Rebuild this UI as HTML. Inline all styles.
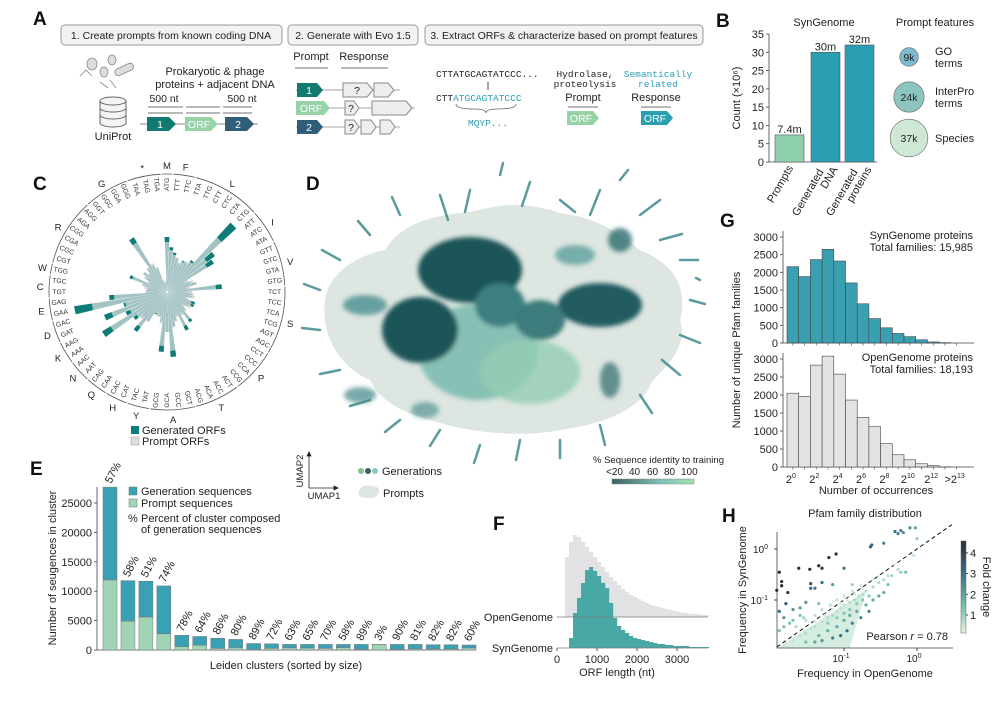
<!DOCTYPE html>
<html><head><meta charset="utf-8">
<style>
html,body{margin:0;padding:0;background:#fff;}
svg{display:block;font-family:"Liberation Sans",Arial,sans-serif;}
.mono{font-family:"Liberation Mono",monospace;}
</style></head>
<body>
<svg id="fig" width="1000" height="704" viewBox="0 0 1000 704" xmlns="http://www.w3.org/2000/svg">
<defs>
<linearGradient id="idgrad" x1="0" x2="1" y1="0" y2="0"><stop offset="0" stop-color="#3b5f63"/><stop offset="0.6" stop-color="#7fc2b8"/><stop offset="1" stop-color="#a3e0a6"/></linearGradient>
<linearGradient id="fcgrad" x1="0" x2="0" y1="1" y2="0"><stop offset="0" stop-color="#e3f4de"/><stop offset="0.3" stop-color="#6fbfa6"/><stop offset="0.65" stop-color="#3c6f8a"/><stop offset="1" stop-color="#2a2a36"/></linearGradient>
<filter id="blur2"><feGaussianBlur stdDeviation="2.5"/></filter>
</defs>

<g font-weight="bold" font-size="19" fill="#111">
<text x="33" y="25">A</text><text x="716" y="27">B</text><text x="33" y="190">C</text>
<text x="306" y="190">D</text><text x="30" y="475">E</text><text x="493" y="530">F</text>
<text x="720" y="227">G</text><text x="722" y="522">H</text>
</g>

<g font-size="10.5" fill="#222">
<rect x="61" y="25" width="221" height="20" rx="4" fill="#f2f2f2" stroke="#999"/>
<text x="171" y="39" text-anchor="middle">1. Create prompts from known coding DNA</text>
<rect x="288" y="25" width="130" height="20" rx="4" fill="#f2f2f2" stroke="#999"/>
<text x="353" y="39" text-anchor="middle">2. Generate with Evo 1.5</text>
<rect x="425" y="25" width="278" height="20" rx="4" fill="#f2f2f2" stroke="#999"/>
<text x="564" y="39" text-anchor="middle">3. Extract ORFs &amp; characterize based on prompt features</text>
<g fill="#ddd" stroke="#888" stroke-width="0.8">
<ellipse cx="92" cy="64" rx="5" ry="6"/><ellipse cx="104" cy="72" rx="4" ry="5"/><ellipse cx="112" cy="60" rx="4" ry="5"/>
<rect x="114" y="66" width="20" height="7" rx="3.5" transform="rotate(-25 124 69)"/>
<path d="M80 76 l6 -6 l6 6 M100 82 l8 6 M110 80 l6 8" fill="none"/>
</g>
<g fill="#f4f4f4" stroke="#666" stroke-width="1">
<path d="M100 101 v22 a13 4 0 0 0 26 0 v-22"/>
<ellipse cx="113" cy="101" rx="13" ry="4"/>
<path d="M100 108 a13 4 0 0 0 26 0 M100 115 a13 4 0 0 0 26 0" fill="none"/>
</g>
<text x="113" y="140" text-anchor="middle" font-size="11">UniProt</text>
<text x="215" y="75" text-anchor="middle" font-size="11">Prokaryotic &amp; phage</text>
<text x="215" y="88" text-anchor="middle" font-size="11">proteins + adjacent DNA</text>
<text x="164" y="102" text-anchor="middle" font-size="10.5">500 nt</text>
<text x="242" y="102" text-anchor="middle" font-size="10.5">500 nt</text>
<g stroke="#444" stroke-width="0.8" fill="#444">
<path d="M148 107 H183 M186 107 H220 M223 107 H252"/>
<path d="M148 113 H183 M186 113 H220 M223 113 H252"/>
</g>
<line x1="140" y1="124" x2="258" y2="124" stroke="#888"/>
<path d="M147 117 h22 l7 7 l-7 7 h-22 z" fill="#127a70"/>
<text x="160" y="128" fill="#fff" text-anchor="middle">1</text>
<path d="M185 117 h26 l7 7 l-7 7 h-26 z" fill="#97d2a8"/>
<text x="199" y="128" fill="#fff" text-anchor="middle">ORF</text>
<path d="M225 117 h22 l7 7 l-7 7 h-22 z" fill="#2f5d7a"/>
<text x="238" y="128" fill="#fff" text-anchor="middle">2</text>
<text x="311" y="60" text-anchor="middle" font-size="11">Prompt</text>
<text x="364" y="60" text-anchor="middle" font-size="11">Response</text>
<path d="M295 68 H328 M341 68 H388" stroke="#444" stroke-width="0.8"/>
<g stroke="#888" stroke-width="0.8">
<line x1="296" y1="90" x2="400" y2="90"/><line x1="296" y1="108" x2="415" y2="108"/><line x1="296" y1="127" x2="400" y2="127"/>
</g>
<path d="M297 83 h20 l6 7 l-6 7 h-20 z" fill="#127a70"/><text x="309" y="94" fill="#fff" text-anchor="middle">1</text>
<path d="M343 83 h24 l6 7 l-6 7 h-24 z M374 83 h14 l6 7 l-6 7 h-14 z" fill="#eee" stroke="#888"/><text x="357" y="94" text-anchor="middle">?</text>
<path d="M296 101 h28 l6 7 l-6 7 h-28 z" fill="#97d2a8"/><text x="311" y="112" fill="#fff" text-anchor="middle">ORF</text>
<path d="M345 101 h9 l5 7 l-5 7 h-9 z M372 101 h34 l6 7 l-6 7 h-34 z" fill="#eee" stroke="#888"/><text x="351" y="112" text-anchor="middle">?</text>
<path d="M297 120 h20 l6 7 l-6 7 h-20 z" fill="#2f5d7a"/><text x="309" y="131" fill="#fff" text-anchor="middle">2</text>
<path d="M345 120 h9 l5 7 l-5 7 h-9 z M361 120 h10 l5 7 l-5 7 h-10 z M380 120 h10 l5 7 l-5 7 h-10 z" fill="#eee" stroke="#888"/><text x="351" y="131" text-anchor="middle">?</text>
<text x="436" y="77" class="mono" font-size="9.5">CTTATGCAGTATCCC...</text>
<path d="M488 82 v8" stroke="#444"/>
<text x="436" y="101" class="mono" font-size="9.5">CTT<tspan fill="#2a9fb0">ATGCAGTATCCC</tspan></text>
<path d="M456 104 q0 5 18 5 q12 0 12 4 q0 -4 12 -4 q18 0 18 -5" fill="none" stroke="#666" stroke-width="0.8"/>
<text x="488" y="126" class="mono" font-size="9.5" fill="#2a9fb0" text-anchor="middle">MQYP...</text>
<text x="585" y="77" class="mono" font-size="9.5" text-anchor="middle">Hydrolase,</text>
<text x="585" y="87" class="mono" font-size="9.5" text-anchor="middle">proteolysis</text>
<text x="583" y="101" text-anchor="middle" font-size="11">Prompt</text>
<path d="M568 107 H598" stroke="#444" stroke-width="0.8"/>
<path d="M567 111 h26 l6 7 l-6 7 h-26 z" fill="#97d2a8"/><text x="581" y="122" fill="#fff" text-anchor="middle">ORF</text>
<text x="658" y="77" class="mono" font-size="9.5" fill="#2a9fb0" text-anchor="middle">Semantically</text>
<text x="658" y="87" class="mono" font-size="9.5" fill="#2a9fb0" text-anchor="middle">related</text>
<text x="656" y="101" text-anchor="middle" font-size="11">Response</text>
<path d="M641 107 H671" stroke="#444" stroke-width="0.8"/>
<path d="M641 111 h26 l6 7 l-6 7 h-26 z" fill="#2a9fb0"/><text x="655" y="122" fill="#fff" text-anchor="middle">ORF</text>
</g>

<g>
<path d="M325 300 C330 270 360 255 385 250 C400 225 430 215 470 212 C500 205 520 200 560 213 C600 218 620 235 640 250 C665 260 690 280 680 320 C690 350 660 370 650 385 C640 410 600 425 560 430 C520 438 470 433 430 420 C400 412 380 400 370 380 C345 370 320 340 325 300 Z" fill="#dde6e0"/>
<g filter="url(#blur2)">
<ellipse cx="478" cy="352" rx="60" ry="48" fill="#7ebdb0" opacity="0.9"/>
<ellipse cx="530" cy="372" rx="50" ry="32" fill="#93cdb4" opacity="0.8"/>
<ellipse cx="470" cy="270" rx="52" ry="33" fill="#1f5458"/>
<ellipse cx="420" cy="330" rx="38" ry="33" fill="#1f5458"/>
<ellipse cx="600" cy="305" rx="42" ry="22" fill="#235b60"/>
<ellipse cx="500" cy="305" rx="25" ry="22" fill="#3e7f80"/>
<ellipse cx="540" cy="320" rx="25" ry="20" fill="#3c7b7c"/>
<ellipse cx="365" cy="305" rx="22" ry="10" fill="#4b8f90" opacity="0.8"/>
<ellipse cx="575" cy="255" rx="20" ry="10" fill="#4b9595" opacity="0.7"/>
<ellipse cx="620" cy="240" rx="12" ry="12" fill="#2d6b6e" opacity="0.8"/>
<ellipse cx="360" cy="395" rx="16" ry="8" fill="#3e8586" opacity="0.7"/>
<ellipse cx="425" cy="410" rx="14" ry="8" fill="#3e8586" opacity="0.6"/>
<ellipse cx="610" cy="380" rx="10" ry="18" fill="#2d6b6e" opacity="0.7"/>
</g>
<g stroke="#3f8a8c" stroke-width="2.5" stroke-linecap="round" opacity="0.85">
<path d="M440 195 l8 25 M470 190 l-5 22 M530 182 l-8 24 M560 200 l15 12 M600 190 l-10 25 M640 215 l20 -15 M660 240 l22 -6 M680 260 l18 0 M690 300 l15 4 M680 335 l20 8 M662 360 l18 15 M640 395 l12 18 M600 425 l5 20 M560 440 l0 18 M520 440 l-4 20 M480 445 l-6 18 M440 430 l-10 16 M400 420 l-15 12 M370 400 l-20 6 M340 370 l-20 4 M320 330 l-18 -2 M320 290 l-16 -6 M340 260 l-18 -10 M370 235 l-12 -14 M400 215 l-8 -18 M500 175 l3 -12 M620 180 l8 -10 M700 280 l-4 -2"/>
</g>
<g stroke="#222" stroke-width="0.8" fill="#222">
<path d="M309 488 V454 M309 488 H336" fill="none"/>
<path d="M307 456 l2 -4 l2 4 z M334 486 l4 2 l-4 2 z"/>
</g>
<text x="303" y="471" font-size="9.5" transform="rotate(-90 303 471)" text-anchor="middle" fill="#222">UMAP2</text>
<text x="324" y="499" font-size="9.5" text-anchor="middle" fill="#222">UMAP1</text>
<g>
<circle cx="361" cy="471" r="3" fill="#7cc48f"/><circle cx="368" cy="471" r="3" fill="#3b5f63"/><circle cx="375" cy="471" r="3" fill="#8ec9c0"/>
<text x="382" y="475" font-size="11" fill="#222">Generations</text>
<path d="M359 491 q4 -8 12 -5 q9 0 8 6 q-3 8 -12 6 q-10 0 -8 -7z" fill="#dde6e0"/>
<text x="383" y="497" font-size="11" fill="#222">Prompts</text>
</g>
<g>
<text x="593" y="463" font-size="9.5" fill="#222">% Sequence identity to training</text>
<text x="606" y="475" font-size="10" fill="#222">&lt;20</text><text x="629" y="475" font-size="10" fill="#222">40</text><text x="647" y="475" font-size="10" fill="#222">60</text><text x="664" y="475" font-size="10" fill="#222">80</text><text x="681" y="475" font-size="10" fill="#222">100</text>
<rect x="612" y="479" width="82" height="5" fill="url(#idgrad)" stroke="#888" stroke-width="0.5"/>
</g>
</g>

<g id="chartC"></g>
<g id="chartB"></g>
<g id="chartE"></g>
<g id="chartF"></g>
<g id="chartG"></g>
<g id="chartH"></g>
</svg>

<script>
const bCategories = ["Prompts", "Generated DNA", "Generated proteins"];
const bValues = [7.4, 30, 32];
const bLabels = ["7.4m", "30m", "32m"];
const bTicks = [0, 5, 10, 15, 20, 25, 30, 35];
const featNames = ["GO terms", "InterPro terms", "Species"];
const featValues = [9, 24, 37];
const featLabels = ["9k", "24k", "37k"];

const codons = ["TAA","TAG","TGA","ATG","TTT","TTC","TTA","TTG","CTT","CTC","CTA","CTG","ATT","ATC","ATA","GTT","GTC","GTA","GTG","TCT","TCC","TCA","TCG","AGT","AGC","CCT","CCC","CCA","CCG","ACT","ACC","ACA","ACG","GCT","GCC","GCA","GCG","TAT","TAC","CAT","CAC","CAA","CAG","AAT","AAC","AAA","AAG","GAT","GAC","GAA","GAG","TGT","TGC","TGG","CGT","CGC","CGA","CGG","AGA","AGG","GGT","GGC","GGA","GGG"];
const aminoAcids = ["*","*","*","M","F","F","L","L","L","L","L","L","I","I","I","V","V","V","V","S","S","S","S","S","S","P","P","P","P","T","T","T","T","A","A","A","A","Y","Y","H","H","Q","Q","N","N","K","K","D","D","E","E","C","C","W","R","R","R","R","R","R","G","G","G","G"];
const genUsage = [1.0,0.8,1.0,5.5,4.5,4.0,3.5,3.0,3.5,3.5,4.0,9.4,6.0,5.5,2.0,2.5,3.0,2.0,5.5,2.0,2.5,2.5,2.0,3.0,3.0,2.5,2.0,2.5,3.8,2.5,4.3,2.5,3.0,3.5,6.5,4.0,6.0,3.0,2.5,2.5,2.5,3.5,5.0,3.5,4.2,7.6,4.6,6.7,4.5,9.4,5.8,2.0,2.0,2.0,2.5,4.0,2.0,2.5,3.0,2.5,3.0,6.4,3.0,2.5];
const promptUsage = [1.2,1.0,1.2,5.0,4.2,3.8,3.6,3.2,3.4,3.6,3.8,7.4,5.0,4.7,2.4,2.8,3.1,2.3,4.9,2.5,2.7,2.8,2.2,2.6,2.7,2.8,2.3,2.7,3.5,2.8,3.8,2.7,3.1,3.6,5.9,4.0,5.4,3.2,2.6,2.6,2.4,3.5,4.4,3.7,3.8,6.6,4.1,5.9,4.3,7.6,5.3,2.2,2.1,2.3,2.6,3.7,2.2,2.7,3.0,2.6,3.1,5.8,3.2,2.7];

const eTotals = [27700,11800,11700,10900,2500,2300,2000,1800,1100,1050,950,950,950,950,950,950,950,950,900,900,850];
const ePrompts = [11900,4900,5600,2750,550,800,280,360,120,290,350,330,290,400,105,920,95,180,160,160,340];
const ePercents = ["57%","58%","51%","74%","78%","64%","86%","80%","89%","72%","63%","65%","70%","58%","89%","3%","90%","81%","82%","82%","60%"];
const eTicks = [0,5000,10000,15000,20000,25000];

const fOpen = [0,0,60,75,82,80,75,70,65,60,55,50,45,40,36,32,28,25,22,20,18,16,14,12,11,10,9,8,7,6,5,4,4,3,3,3,2,2];
const fSyn = [0,0,0,10,35,50,65,78,81,77,72,65,60,45,30,22,18,15,12,10,9,8,7,6,5,4,4,3,3,2,2,2,2,1,1,1,1,1];
const fTicks = [0,1000,2000,3000];

const gBins = ["2^0","2^1","2^2","2^3","2^4","2^5","2^6","2^7","2^8","2^9","2^10","2^11","2^12","2^13",">2^13"];
const gSyn = [2160,1880,2360,2650,2320,1700,1110,690,430,270,180,90,30,10,0];
const gOpen = [2050,1960,2830,3080,2580,1860,1380,1120,650,340,200,90,40,5,0];
const gTicks = [0,500,1000,1500,2000,2500,3000];
const gTickBins = [0,2,4,6,8,10,12];
const gTickLabels = ["0","2","4","6","8","10","12"];

const hOpenFreq = [0.013,0.014,0.014,0.012,0.017,0.024,0.034,0.045,0.05,0.062,0.078,0.035,0.04,0.035,0.05,0.07,0.1,0.13,0.12,0.016,0.02,0.028,0.013,0.013,0.015,0.03,0.045,0.025,0.23,0.24,0.35,0.5,0.55,0.6,0.65,0.8,0.95,0.9,1.0,0.7,0.55,0.6,0.015,0.02,0.025,0.03,0.035,0.04,0.05,0.06,0.07,0.08,0.09,0.1,0.12,0.14,0.16,0.18,0.2,0.25,0.3,0.35,0.4,0.045,0.06,0.08,0.1,0.12,0.15,0.2,0.25,0.3,0.35,0.07,0.09,0.11,0.05,0.04,0.13,0.17,0.22,0.03,0.06,0.08,0.1,0.12,0.15,0.18,0.22,0.028,0.04,0.055,0.07,0.09,0.11,0.14,0.18,0.022,0.03,0.04,0.05,0.065,0.08,0.1,0.13,0.17,0.018,0.025,0.015,0.02,0.5,0.45,0.3,0.4,0.25];
const hSynFreq = [0.35,0.23,0.19,0.155,0.14,0.42,0.4,0.47,0.42,0.68,0.8,0.21,0.17,0.17,0.22,0.2,0.42,0.2,0.12,0.085,0.065,0.045,0.06,0.025,0.03,0.09,0.085,0.07,1.1,1.2,1.3,2.2,2.0,2.3,2.1,2.6,2.6,0.75,1.6,0.35,0.4,0.35,0.013,0.016,0.02,0.022,0.028,0.03,0.038,0.045,0.05,0.06,0.07,0.08,0.09,0.1,0.12,0.13,0.15,0.18,0.22,0.25,0.3,0.02,0.025,0.03,0.04,0.05,0.06,0.08,0.1,0.12,0.14,0.018,0.02,0.025,0.016,0.015,0.035,0.045,0.06,0.015,0.035,0.045,0.055,0.065,0.085,0.1,0.12,0.025,0.038,0.05,0.065,0.085,0.1,0.13,0.17,0.03,0.04,0.05,0.065,0.08,0.1,0.12,0.15,0.19,0.035,0.05,0.045,0.04,0.5,0.3,0.3,0.2,0.25];
const hFoldTicks = [1,2,3,4];

const NS = "http://www.w3.org/2000/svg";
function mk(tag, parent, attrs) {
  const e = document.createElementNS(NS, tag);
  for (const k in attrs) e.setAttribute(k, attrs[k]);
  parent.appendChild(e);
  return e;
}
function txt(parent, x, y, s, size, anchor, extra) {
  const t = mk("text", parent, Object.assign({x: x, y: y, "font-size": size, "text-anchor": anchor || "start", fill: "#222"}, extra || {}));
  t.textContent = s;
  return t;
}

(function(){
  const g = document.getElementById("chartB");
  const y0 = 162, y1 = 34, vmax = 35, axX = 769;
  const yS = v => y0 - (v / vmax) * (y0 - y1);
  const bx = [775, 811, 845], bw = 29;
  const colors = ["#8fd1ac", "#2a9fb1", "#2a9fb1"];
  const ax = mk("path", g, {d: `M${axX} ${y1} V${y0} H${axX+108}`, stroke: "#444", fill: "none", "stroke-width": 0.8});
  
  
  bTicks.forEach(t => {
    mk("line", g, {x1: axX-3, x2: axX, y1: yS(t), y2: yS(t), stroke: "#444", "stroke-width": 0.8});
    const l = txt(g, axX-5, yS(t)+4, String(t), 11, "end");
    
    
  });
  const yt = txt(g, 740, 98, "Count (×10⁶)", 11, "middle", {transform: "rotate(-90 740 98)"});
  
  
  const st = txt(g, 824, 26, "SynGenome", 11, "middle");
  
  
  bValues.forEach((v, i) => {
    const r = mk("rect", g, {x: bx[i], y: yS(v), width: bw, height: y0 - yS(v), fill: colors[i], stroke: "#555", "stroke-width": 0.6});
    
    
    const l = txt(g, bx[i] + bw/2, yS(v) - 2, bLabels[i], 11, "middle");
    
    
    const words = bCategories[i].split(" ");
    const cx = bx[i] + bw/2 + 4, cy = y0 + 6;
    const tl = mk("text", g, {x: cx, y: cy, "font-size": 11, "text-anchor": "end", fill: "#222", transform: `rotate(-60 ${cx} ${cy})`});
    
    
    if (words.length === 1) { tl.textContent = words[0]; }
    else {
      const a = mk("tspan", tl, {x: cx - 6, dy: -3}); a.textContent = words[0];
      const b = mk("tspan", tl, {x: cx + 3, dy: 11}); b.textContent = words[1];
    }
  });
  const ft = txt(g, 935, 26, "Prompt features", 11, "middle");
  
  
  const fy = [57, 97, 138], fcol = ["#7dbcd0", "#8ec4c0", "#cfe8d6"];
  featValues.forEach((v, i) => {
    const r = 6.2 * Math.sqrt(v / 4);
    const c = mk("circle", g, {cx: 909, cy: fy[i], r: r, fill: fcol[i], stroke: "#666", "stroke-width": 0.6});
    
    
    txt(g, 909, fy[i] + 4, featLabels[i], 10.5, "middle");
    const parts = featNames[i].split(" ");
    if (parts.length > 1) { txt(g, 935, fy[i] - 2, parts[0], 11); txt(g, 935, fy[i] + 10, parts[1], 11); }
    else txt(g, 935, fy[i] + 4, parts[0], 11);
  });
})();

(function(){
  const g = document.getElementById("chartC");
  const cx = 167, cy = 292, step = 360 / codons.length, k = 10;
  const rad = a => (a - 90) * Math.PI / 180;
  function wedge(a, r1, r2, col, name) {
    const w = step * 0.45;
    const p = (ang, r) => [cx + r * Math.cos(rad(ang)), cy + r * Math.sin(rad(ang))];
    const A = p(a - w, r1), B = p(a - w, r2), C = p(a + w, r2), D = p(a + w, r1);
    const e = mk("path", g, {d: `M${A} L${B} A${r2} ${r2} 0 0 1 ${C} L${D} A${r1} ${r1} 0 0 0 ${A}Z`, fill: col});
    
    
  }
  codons.forEach((c, i) => {
    let a = (i - 3) * step;
    const gv = genUsage[i] * k, pv = promptUsage[i] * k;
    const lo = Math.min(gv, pv);
    wedge(a, 1, lo, "#a3c2c3", "codon-bar-overlap");
    if (gv > pv) wedge(a, lo, gv, "#0f7d77", "codon-bar-generated");
    else wedge(a, lo, pv, "#d3d3d3", "codon-bar-prompt");
    const an = (a + 360) % 360;
    const lr = 101, x = cx + lr * Math.cos(rad(an)), y = cy + lr * Math.sin(rad(an));
    const right = an < 180;
    const rr = right ? an - 90 : an + 90;
    const t = txt(g, x, y, c, 6.8, right ? "start" : "end", {transform: `rotate(${rr} ${x} ${y})`, "dominant-baseline": "middle", fill: "#333"});
    
    
  });
  let s = 0;
  for (let i = 1; i <= codons.length; i++) {
    if (i === codons.length || aminoAcids[i] !== aminoAcids[s]) {
      const a0 = (s - 3) * step - step * 0.45, a1 = (i - 1 - 3) * step + step * 0.45;
      const R = 118;
      const P = ang => [cx + R * Math.cos(rad(ang)), cy + R * Math.sin(rad(ang))];
      const arc = mk("path", g, {d: `M${P(a0)} A${R} ${R} 0 0 1 ${P(a1)}`, fill: "none", stroke: "#555", "stroke-width": 0.8});
      
      
      const am = (a0 + a1) / 2, R2 = 127;
      const l = txt(g, cx + R2 * Math.cos(rad(am)), cy + R2 * Math.sin(rad(am)) + 4, aminoAcids[s], 9.5, "middle");
      
      
      s = i;
    }
  }
  const lg1 = mk("rect", g, {x: 131, y: 426, width: 8, height: 8, fill: "#0f7d77"});
  
  
  txt(g, 142, 434, "Generated ORFs", 11);
  const lg2 = mk("rect", g, {x: 131, y: 437, width: 8, height: 8, fill: "#ddd", stroke: "#999", "stroke-width": 0.5});
  
  
  txt(g, 142, 445, "Prompt ORFs", 11);
})();

(function(){
  const g = document.getElementById("chartE");
  const y0 = 650, y25 = 503, x0 = 97, x1 = 476, bw = 14, step = 17.95, bs = 103;
  const yS = v => y0 - v / 25000 * (y0 - y25);
  mk("path", g, {d: `M${x0} 487 V${y0} H${x1}`, stroke: "#444", fill: "none", "stroke-width": 0.8});
  eTicks.forEach(t => {
    mk("line", g, {x1: x0-3, x2: x0, y1: yS(t), y2: yS(t), stroke: "#444", "stroke-width": 0.8});
    const l = txt(g, x0-5, yS(t)+4, String(t), 11, "end");
    
    
  });
  eTotals.forEach((tot, i) => {
    const x = bs + i * step;
    const r1 = mk("rect", g, {x: x, y: yS(tot), width: bw, height: yS(ePrompts[i]) - yS(tot), fill: "#3aa0b4", stroke: "#777", "stroke-width": 0.5});
    
    
    const r2 = mk("rect", g, {x: x, y: yS(ePrompts[i]), width: bw, height: y0 - yS(ePrompts[i]), fill: "#9fd4b4", stroke: "#777", "stroke-width": 0.5});
    
    
    const lx = x + bw/2 + 1, ly = yS(tot) - 3;
    const l = txt(g, lx, ly, ePercents[i], 11, "start", {transform: `rotate(-62 ${lx} ${ly})`});
    
    
  });
  const yt = txt(g, 56, 568, "Number of seugences in cluster", 11, "middle", {transform: "rotate(-90 56 568)"});
  
  
  const xt = txt(g, 286, 669, "Leiden clusters (sorted by size)", 11, "middle");
  
  
  const l1 = mk("rect", g, {x: 129, y: 487, width: 8, height: 8, fill: "#3aa0b4", stroke: "#777", "stroke-width": 0.5});
  
  
  txt(g, 141, 495, "Generation sequences", 11);
  const l2 = mk("rect", g, {x: 129, y: 499, width: 8, height: 8, fill: "#9fd4b4", stroke: "#777", "stroke-width": 0.5});
  
  
  txt(g, 141, 507, "Prompt sequences", 11);
  txt(g, 128, 522, "%", 11);
  txt(g, 141, 522, "Percent of cluster composed", 11);
  txt(g, 141, 533, "of generation sequences", 11);
})();

(function(){
  const g = document.getElementById("chartF");
  const x0 = 557, pxPerNt = 0.04, binNt = 100, openBase = 617, synBase = 648;
  const xS = v => x0 + v * pxPerNt;
  fOpen.forEach((h, i) => {
    if (!h) return;
    const r = mk("rect", g, {x: xS(i*binNt), y: openBase - h, width: binNt*pxPerNt + 0.2, height: h, fill: "#e2e2e4"});
    
    
  });
  fSyn.forEach((h, i) => {
    if (!h) return;
    const r = mk("rect", g, {x: xS(i*binNt), y: synBase - h, width: binNt*pxPerNt + 0.2, height: h, fill: "#48a8a6"});
    
    
  });
  mk("line", g, {x1: x0, x2: 708, y1: openBase, y2: openBase, stroke: "#777", "stroke-width": 0.8});
  mk("line", g, {x1: x0, x2: 708, y1: synBase, y2: synBase, stroke: "#777", "stroke-width": 0.8});
  txt(g, 553, 621, "OpenGenome", 11, "end");
  txt(g, 553, 652, "SynGenome", 11, "end");
  fTicks.forEach(t => {
    mk("line", g, {x1: xS(t), x2: xS(t), y1: synBase, y2: synBase + 3, stroke: "#555"});
    const l = txt(g, xS(t), 663, String(t), 11, "middle");
    
    
  });
  const xt = txt(g, 617, 676, "ORF length (nt)", 11, "middle");
  
  
})();

(function(){
  const g = document.getElementById("chartG");
  const x0 = 787, bw = 11.7, axX = 783;
  function panel(vals, base, top, color, name, t1, t2) {
    const yS = v => base - v / 3000 * (base - top);
    mk("path", g, {d: `M${axX} ${top-6} V${base} H974`, stroke: "#444", fill: "none", "stroke-width": 0.8});
    gTicks.forEach(t => {
      mk("line", g, {x1: axX-3, x2: axX, y1: yS(t), y2: yS(t), stroke: "#444", "stroke-width": 0.8});
      const l = txt(g, axX-5, yS(t)+4, String(t), 11, "end");
      
      
    });
    gBins.forEach((b, i) => mk("line", g, {x1: x0 + (i+0.5)*bw, x2: x0 + (i+0.5)*bw, y1: base, y2: base + 2.5, stroke: "#444", "stroke-width": 0.6}));
    vals.forEach((v, i) => {
      if (!v) return;
      const r = mk("rect", g, {x: x0 + i*bw, y: yS(v), width: bw, height: base - yS(v), fill: color, stroke: "#444", "stroke-width": 0.6});
      
      
    });
    txt(g, 973, top + 2, t1, 11, "end");
    txt(g, 973, top + 14, t2, 11, "end");
  }
  panel(gSyn, 343, 237, "#3aa0b1", "syngenome-pfam-bar", "SynGenome proteins", "Total families: 15,985");
  panel(gOpen, 467, 359, "#e2e3e5", "opengenome-pfam-bar", "OpenGenome proteins", "Total families: 18,193");
  gTickBins.forEach((b, j) => {
    const x = x0 + (b + 0.5) * bw;
    const t = mk("text", g, {x: x - 2, y: 483, "font-size": 11, "text-anchor": "middle", fill: "#222"});
    
    
    t.textContent = "2";
    const sp = mk("tspan", t, {dy: -5, "font-size": 7}); sp.textContent = gTickLabels[j];
  });
  const lx = x0 + 14.5 * bw;
  const t = mk("text", g, {x: lx - 2, y: 483, "font-size": 11, "text-anchor": "middle", fill: "#222"});
  
  
  t.textContent = ">2";
  const sp = mk("tspan", t, {dy: -5, "font-size": 7}); sp.textContent = "13";
  const yt = txt(g, 740, 350, "Number of unique Pfam families", 11, "middle", {transform: "rotate(-90 740 350)"});
  
  
  const xt = txt(g, 876, 494, "Number of occurrences", 11, "middle");
  
  
})();

(function(){
  const g = document.getElementById("chartH");
  const xS = v => 844 + (Math.log10(v) + 1) * 73;
  const yS = v => 600 - (Math.log10(v) + 1) * 51;
  const ax0 = 777, ax1 = 953, ay0 = 648, ay1 = 532;
  const title = txt(g, 865, 517, "Pfam family distribution", 11, "middle");
  
  
  mk("polygon", g, {points: `${ax0},${ay0} ${xS(0.2)},${yS(0.15)} ${xS(0.12)},${ay0}`, fill: "#cdeadb", opacity: 0.85});
  mk("path", g, {d: `M${ax0} ${ay1} V${ay0} H${ax1}`, stroke: "#444", fill: "none", "stroke-width": 0.8});
  [0.1, 1].forEach((v, i) => {
    mk("line", g, {x1: xS(v), x2: xS(v), y1: ay0, y2: ay0 + 3, stroke: "#444"});
    mk("line", g, {x1: ax0 - 3, x2: ax0, y1: yS(v), y2: yS(v), stroke: "#444"});
    const ex = i === 0 ? "-1" : "0";
    const tx = mk("text", g, {x: xS(v) - 3, y: 662, "font-size": 10, "text-anchor": "middle", fill: "#222"});
    
    
    tx.textContent = "10";
    mk("tspan", tx, {dy: -4, "font-size": 7}).textContent = ex;
    const ty = mk("text", g, {x: ax0 - 9, y: yS(v) + 4, "font-size": 10, "text-anchor": "end", fill: "#222"});
    
    
    ty.textContent = "10";
    mk("tspan", ty, {dy: -4, "font-size": 7}).textContent = ex;
  });
  const diag = mk("line", g, {x1: xS(0.012), y1: yS(0.012), x2: xS(3.0), y2: yS(3.0), stroke: "#111", "stroke-dasharray": "4 3", "stroke-width": 1});
  
  
  const ramp = [[227,244,222],[111,191,166],[60,111,138],[42,42,54]];
  function col(t) {
    t = Math.max(0, Math.min(1, t)) * 3;
    const i = Math.min(2, Math.floor(t)), f = t - i;
    const c = ramp[i].map((v, k) => Math.round(v + (ramp[i+1][k] - v) * f));
    return `rgb(${c})`;
  }
  hOpenFreq.forEach((x, i) => {
    const y = hSynFreq[i];
    const fold = Math.max(y / x, x / y);
    const p = mk("circle", g, {cx: xS(x), cy: yS(y), r: 1.6, fill: col(Math.log2(fold) / 3.2)});
    
    
  });
  const pr = txt(g, 948, 640, "", 11, "end");
  pr.innerHTML = 'Pearson <tspan font-style="italic">r</tspan> = 0.78';
  const cb = mk("rect", g, {x: 961, y: 541, width: 5, height: 92, fill: "url(#fcgrad)", stroke: "#666", "stroke-width": 0.5});
  
  
  const cbY = v => 633 - (v - 0.13) * 20.7;
  hFoldTicks.forEach(t => {
    mk("line", g, {x1: 966, x2: 968, y1: cbY(t), y2: cbY(t), stroke: "#444"});
    txt(g, 970, cbY(t) + 4, String(t), 11);
  });
  const ft = txt(g, 983, 587, "Fold change", 11, "middle", {transform: "rotate(90 983 587)"});
  
  
  const yt = txt(g, 746, 590, "Frequency in SynGenome", 11, "middle", {transform: "rotate(-90 746 590)"});
  
  
  const xt = txt(g, 865, 677, "Frequency in OpenGenome", 11, "middle");
  
  
})();
</script>
</body></html>
